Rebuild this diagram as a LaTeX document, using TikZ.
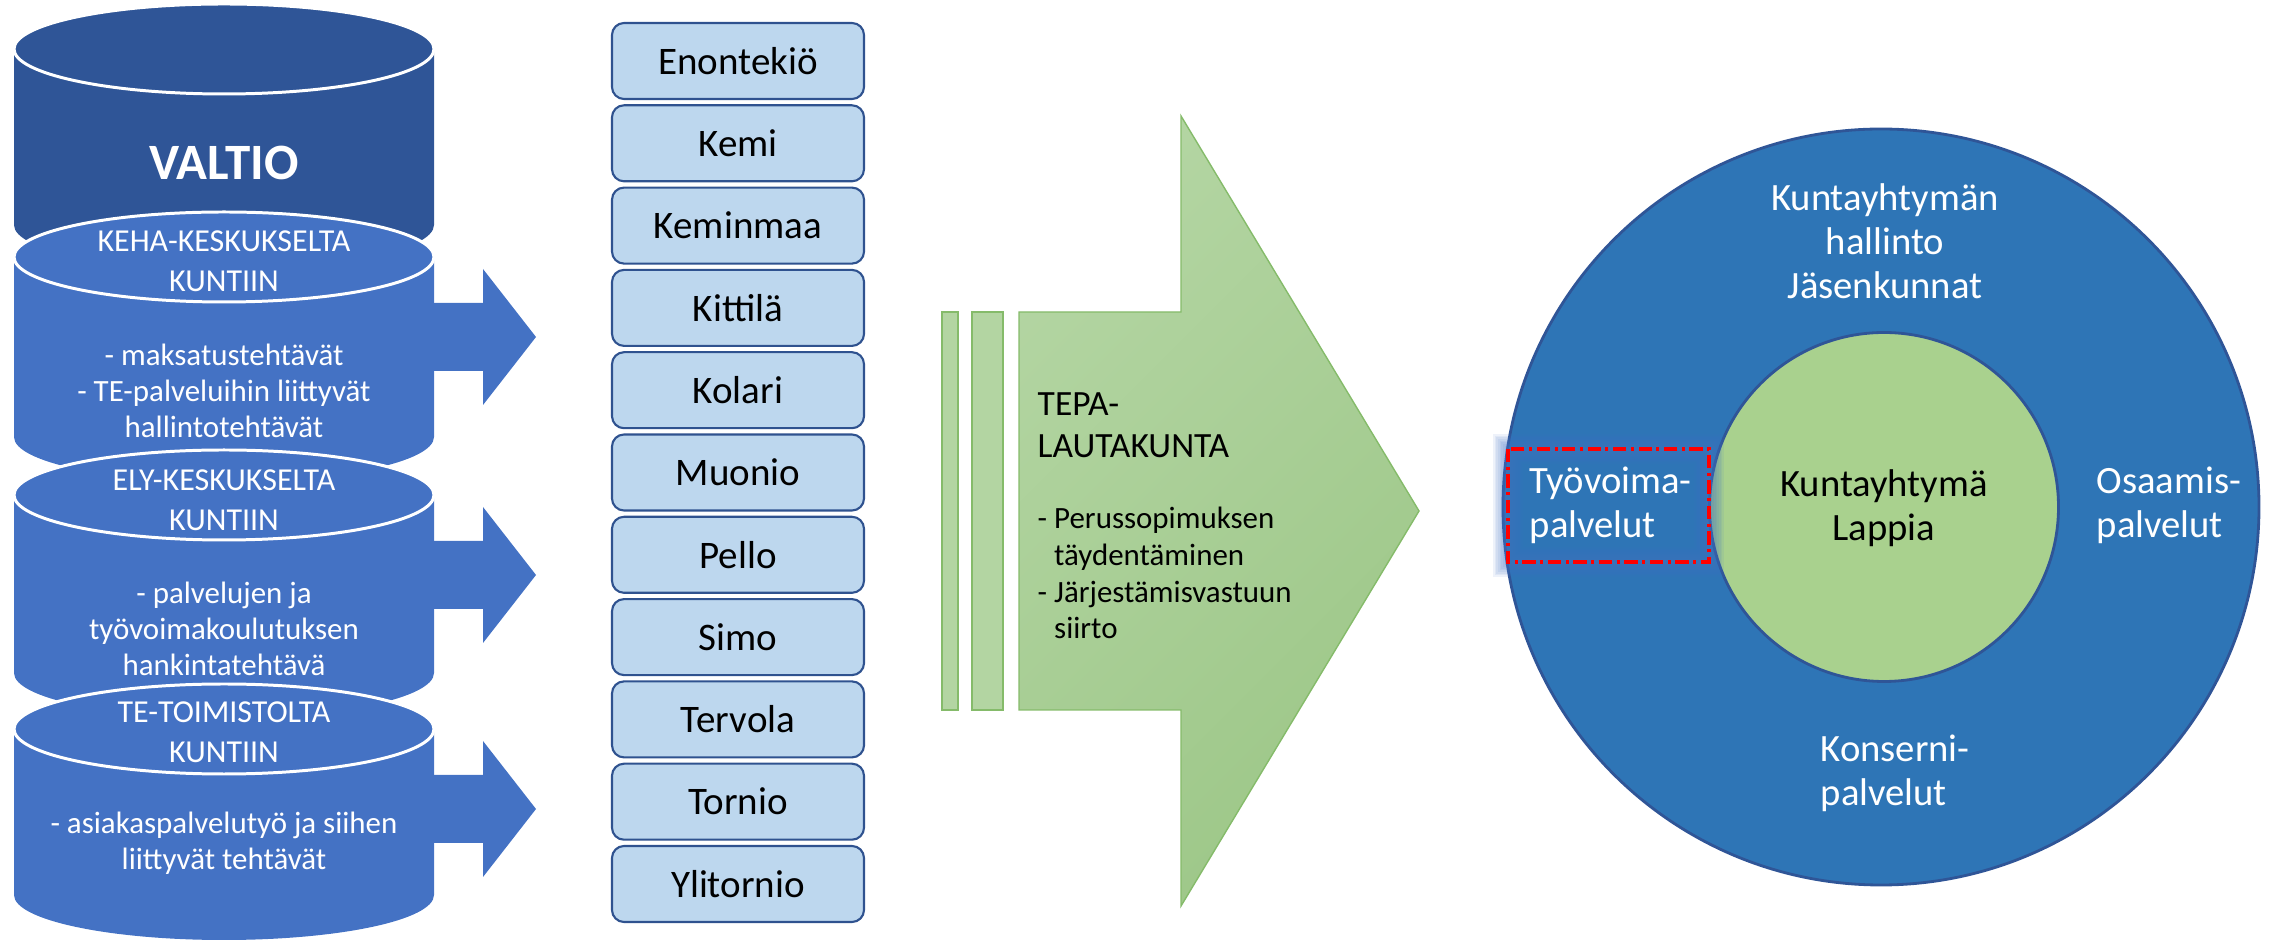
\documentclass[tikz,border=0pt]{standalone}
\usepackage{fontspec}
\setmainfont{Carlito}
\usepackage{xcolor}
\usepackage{tikz}
\usetikzlibrary{positioning}

\definecolor{valtioblue}{HTML}{2F5597}
\definecolor{kehablue}{HTML}{4472C4}
\definecolor{kuntafill}{HTML}{BDD7EE}
\definecolor{kuntaline}{HTML}{2F528F}
\definecolor{tepatop}{HTML}{B3D5A2}
\definecolor{tepabottom}{HTML}{9DC788}
\definecolor{tepaline}{HTML}{85BB6A}
\definecolor{lappiablue}{HTML}{2E75B6}
\definecolor{lappiagreen}{HTML}{A9D18E}

\begin{document}
\begin{tikzpicture}[
    cyltitle/.style={text=white, align=center, inner sep=0pt, font=\fontsize{9.1}{11.4}\selectfont},
    cyltasks/.style={text=white, align=center, inner sep=0pt, font=\fontsize{8.8}{10.3}\selectfont},
    kunta/.style={draw=kuntaline, fill=kuntafill, line width=0.6pt, rounded corners=0.12cm,
        minimum width=2.52cm, minimum height=0.76cm, inner sep=0pt, font=\fontsize{11.1}{12}\selectfont},
    ringtext/.style={text=white, align=center, inner sep=0pt, font=\fontsize{11}{12.5}\selectfont},
    ringleft/.style={ringtext, align=left, anchor=west}
]
\useasboundingbox (0,0) rectangle (22.72,9.47);

% valtio
\fill[valtioblue] (0.14,8.98) -- (0.14,7.22) arc[start angle=180, end angle=360, x radius=2.1, y radius=0.45] -- (4.34,8.98) -- cycle;
\draw[white, line width=0.85pt, fill=valtioblue] (2.24,8.98) ellipse [x radius=2.1, y radius=0.45];
\node[text=white, inner sep=0pt, font=\bfseries\fontsize{14.5}{16}\selectfont] (valtio) at (2.24,7.84) {VALTIO};

% the three transfers with their arrows
\foreach \yt/\yb in {6.90/5.10, 4.52/2.74, 2.18/0.52} {
    \fill[kehablue] (0.14,\yt) -- (0.14,\yb) arc[start angle=180, end angle=360, x radius=2.1, y radius=0.45] -- (4.34,\yt) -- cycle;
    \draw[white, line width=0.85pt, fill=kehablue] (2.24,\yt) ellipse [x radius=2.1, y radius=0.45];
    \fill[kehablue] (4.30,\yt-0.46) -- (4.83,\yt-0.46) -- (4.83,\yt-0.12) -- (5.36,\yt-0.80)
        -- (4.83,\yt-1.48) -- (4.83,\yt-1.14) -- (4.30,\yt-1.14) -- cycle;
}
\node[cyltitle] (keha) at (2.24,6.86) {KEHA-KESKUKSELTA\\KUNTIIN};
\node[cyltasks] (kehatyot) at (2.24,5.56) {- maksatustehtävät\\- TE-palveluihin liittyvät\\hallintotehtävät};
\node[cyltitle] (ely) at (2.24,4.47) {ELY-KESKUKSELTA\\KUNTIIN};
\node[cyltasks] (elytyot) at (2.24,3.18) {- palvelujen ja\\työvoimakoulutuksen\\hankintatehtävä};
\node[cyltitle] (te) at (2.24,2.15) {TE-TOIMISTOLTA\\KUNTIIN};
\node[cyltasks] (tetyot) at (2.24,1.04) {- asiakaspalvelutyö ja siihen\\liittyvät tehtävät};

% member municipalities
\foreach \nimi [count=\i from 0] in {Enontekiö, Kemi, Keminmaa, Kittilä, Kolari, Muonio, Pello, Simo, Tervola, Tornio, Ylitornio}
    \node[kunta] (kunta\i) at (7.38,{8.86-0.823*\i}) {\nimi};

% tepa arrow
\draw[tepaline, line width=0.4pt, fill=tepatop] (9.42,6.35) rectangle (9.58,2.37);
\draw[tepaline, line width=0.4pt, fill=tepatop] (9.72,6.35) rectangle (10.03,2.37);
\draw[tepaline, line width=0.4pt, top color=tepatop, bottom color=tepabottom, shading angle=45]
    (10.19,6.35) -- (11.81,6.35) -- (11.81,8.31) -- (14.19,4.36) -- (11.81,0.41) -- (11.81,2.37) -- (10.19,2.37) -- cycle;
\node[anchor=west, align=left, inner sep=0pt, font=\fontsize{10.1}{11.9}\selectfont] (tepa) at (10.37,5.22) {TEPA-\\LAUTAKUNTA};
\node[anchor=west, align=left, inner sep=0pt, font=\fontsize{8.8}{10.5}\selectfont] (tepatyot) at (10.37,3.74)
    {- Perussopimuksen\\\hphantom{- }täydentäminen\\- Järjestämisvastuun\\\hphantom{- }siirto};

% lappia
\draw[valtioblue, line width=0.8pt, fill=lappiablue] (18.81,4.40) circle (3.78);
\draw[valtioblue, line width=0.8pt, fill=lappiagreen] (18.84,4.40) circle (1.745);
\foreach \w in {1,...,9}
    \draw[kehablue, opacity=0.09, line width=\w*0.95pt] (15.08,4.98) rectangle (17.09,3.85);
\draw[red, line width=1pt, dash pattern=on 3.8pt off 1.3pt on 0.85pt off 1.3pt] (15.08,4.98) rectangle (17.09,3.85);

\node[ringtext] (hallinto) at (18.85,7.06) {Kuntayhtymän\\hallinto\\Jäsenkunnat};
\node[ringtext, text=black] (lappia) at (18.84,4.39) {Kuntayhtymä\\Lappia};
\node[ringleft] (osaamis) at (20.96,4.42) {Osaamis-\\palvelut};
\node[ringleft] (tyovoima) at (15.29,4.415) {Työvoima-\\palvelut};
\node[ringleft] (konserni) at (18.20,1.735) {Konserni-\\palvelut};
\end{tikzpicture}
\end{document}
